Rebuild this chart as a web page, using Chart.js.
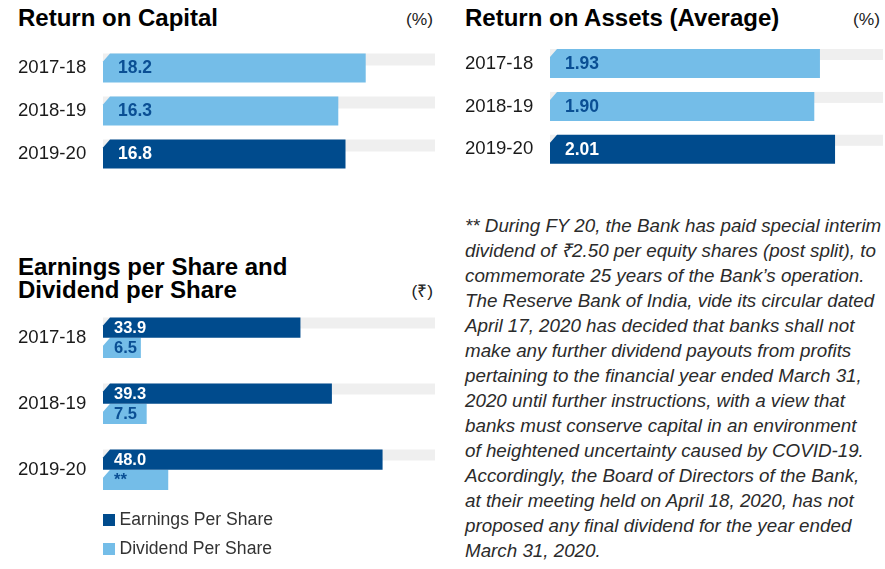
<!DOCTYPE html>
<html>
<head>
<meta charset="utf-8">
<script src="https://cdn.jsdelivr.net/npm/chart.js@4.4.0/dist/chart.umd.min.js"></script>
<style>
  html, body { margin:0; padding:0; background:#fff; }
  body { width:885px; height:569px; position:relative; overflow:hidden;
         font-family:"Liberation Sans", Arial, Helvetica, sans-serif; }
  .abs { position:absolute; white-space:nowrap; }
  .title { font-weight:bold; font-size:24px; line-height:24px; color:#000; }
  .unit { font-size:17.4px; line-height:18px; color:#222; text-align:right; }
  .note { font-style:italic; font-size:18.8px; line-height:25px; color:#2b2b2b; white-space:pre; }
  .leg { font-size:17.6px; line-height:20px; color:#333; }
  .sw { position:absolute; width:12px; height:12px; }
  canvas { position:absolute; }
</style>
</head>
<body>
<div class="abs title" style="left:18px;top:5.7px;">Return on Capital</div>
<div class="abs unit" style="left:370px;width:63px;top:9.7px;">(%)</div>
<div class="abs title" style="left:465px;top:5.7px;">Return on Assets (Average)</div>
<div class="abs unit" style="left:817px;width:63px;top:9.7px;">(%)</div>
<div class="abs title" style="left:18px;top:255.2px;line-height:23px;">Earnings per Share and<br>Dividend per Share</div>
<div class="abs unit" style="left:370px;width:63px;top:282px;">(₹)</div>

<canvas id="roc" width="435" height="140" style="left:0;top:40px;"></canvas>
<canvas id="roa" width="436" height="140" style="left:447px;top:36px;"></canvas>
<canvas id="eps" width="435" height="210" style="left:0;top:300px;"></canvas>

<div id="legend"></div>
<div id="note" class="abs note" style="left:465px;top:212.5px;"></div>

<script>
// ---- data ----
const years = ['2017-18', '2018-19', '2019-20'];
const rocValues = [18.2, 16.3, 16.8];
const roaValues = [1.93, 1.90, 2.01];
const epsValues = [33.9, 39.3, 48.0];
const dpsValues = [6.5, 7.5, 11.2];
const dpsLabels = ['6.5', '7.5', '**'];
const seriesNames = ['Earnings Per Share', 'Dividend Per Share'];
const noteLines = [
  '** During FY 20, the Bank has paid special interim',
  'dividend of ₹2.50 per equity shares (post split), to',
  'commemorate 25 years of the Bank’s operation.',
  'The Reserve Bank of India, vide its circular dated',
  'April 17, 2020 has decided that banks shall not',
  'make any further dividend payouts from profits',
  'pertaining to the financial year ended March 31,',
  '2020 until further instructions, with a view that',
  'banks must conserve capital in an environment',
  'of heightened uncertainty caused by COVID-19.',
  'Accordingly, the Board of Directors of the Bank,',
  'at their meeting held on April 18, 2020, has not',
  'proposed any final dividend for the year ended',
  'March 31, 2020.'
];

// ---- style ----
const LIGHT = '#74bde8';
const DARK = '#004b8d';
const LABEL_DARK = '#0a4f94';
const TRACK = '#efefef';
const FONT = '"Liberation Sans", Arial, Helvetica, sans-serif';
const ROA_BASE = 0.5;

// custom bar painter: grey track, chamfered bars, value labels
const barPainter = {
  id: 'barPainter',
  beforeDatasetsDraw(chart, args, opts) {
    const ctx = chart.ctx;
    const meta = chart.getDatasetMeta(0);
    ctx.save();
    ctx.fillStyle = TRACK;
    meta.data.forEach(el => {
      const top = el.y - el.height / 2;
      ctx.fillRect(el.base, top, chart.chartArea.right - el.base, opts.trackHeight);
    });
    ctx.restore();
  },
  beforeDatasetDraw(chart, args, opts) {
    const ctx = chart.ctx;
    const meta = args.meta;
    ctx.save();
    meta.data.forEach(el => {
      const top = el.y - el.height / 2;
      const bottom = el.y + el.height / 2;
      const c = opts.chamfer;
      ctx.beginPath();
      ctx.moveTo(el.base, top + c + 1);
      ctx.lineTo(el.base + c, top);
      ctx.lineTo(el.x, top);
      ctx.lineTo(el.x, bottom);
      ctx.lineTo(el.base, bottom);
      ctx.closePath();
      ctx.fillStyle = el.options.backgroundColor;
      ctx.fill();
    });
    ctx.restore();
    return false;
  },
  afterDatasetsDraw(chart, args, opts) {
    const ctx = chart.ctx;
    ctx.save();
    ctx.font = 'bold ' + opts.fontSize + 'px ' + FONT;
    ctx.textBaseline = 'middle';
    ctx.textAlign = 'left';
    chart.data.datasets.forEach((ds, di) => {
      const meta = chart.getDatasetMeta(di);
      meta.data.forEach((el, i) => {
        ctx.fillStyle = opts.labelColors[di][i];
        const txt = ds.valueLabels ? ds.valueLabels[i] : String(ds.data[i]);
        ctx.fillText(txt, el.base + opts.offset, el.y + 0.5);
      });
    });
    ctx.restore();
  }
};

function yAxis(width) {
  return {
    grid: { display: false, drawTicks: false },
    border: { display: false },
    ticks: { crossAlign: 'far', padding: 0, color: '#1a1a1a',
             font: { family: FONT, size: 18.6 } },
    afterFit(s) { s.width = width; s.paddingTop = 0; s.paddingBottom = 0; }
  };
}

function baseOptions(xmin, xmax, pad, painter) {
  return {
    indexAxis: 'y',
    responsive: false,
    animation: false,
    events: [],
    layout: { padding: pad },
    scales: {
      x: { display: false, min: xmin, max: xmax },
      y: yAxis(85)
    },
    plugins: {
      legend: { display: false },
      tooltip: { enabled: false },
      barPainter: painter
    }
  };
}

Chart.register(barPainter);

// Return on Capital
new Chart(document.getElementById('roc'), {
  type: 'bar',
  data: {
    labels: years,
    datasets: [{
      data: rocValues,
      valueLabels: rocValues.map(v => v.toFixed(1)),
      backgroundColor: [LIGHT, LIGHT, DARK],
      barThickness: 29
    }]
  },
  options: baseOptions(0, 23, { left: 18, right: 0, top: 6.5, bottom: 4.5 },
    { trackHeight: 12, chamfer: 7, offset: 15, fontSize: 17.5,
      labelColors: [[LABEL_DARK, LABEL_DARK, '#ffffff']] })
});

// Return on Assets
new Chart(document.getElementById('roa'), {
  type: 'bar',
  data: {
    labels: years,
    datasets: [{
      data: roaValues,
      base: ROA_BASE,
      valueLabels: roaValues.map(v => v.toFixed(2)),
      backgroundColor: [LIGHT, LIGHT, DARK],
      barThickness: 29
    }]
  },
  options: baseOptions(ROA_BASE, 2.264, { left: 18, right: 0, top: 6.1, bottom: 5.3 },
    { trackHeight: 11, chamfer: 7, offset: 15, fontSize: 17.5,
      labelColors: [[LABEL_DARK, LABEL_DARK, '#ffffff']] })
});

// EPS / DPS
new Chart(document.getElementById('eps'), {
  type: 'bar',
  data: {
    labels: years,
    datasets: [
      { label: seriesNames[0], data: epsValues,
        valueLabels: epsValues.map(v => v.toFixed(1)),
        backgroundColor: DARK, barThickness: 20.3 },
      { label: seriesNames[1], data: dpsValues,
        valueLabels: dpsLabels,
        backgroundColor: LIGHT, barThickness: 20.3 }
    ]
  },
  options: baseOptions(0, 57, { left: 18, right: 0, top: 4.8, bottom: 7.2 },
    { trackHeight: 11, chamfer: 7, offset: 11, fontSize: 16.5,
      labelColors: [['#ffffff', '#ffffff', '#ffffff'], [LABEL_DARK, LABEL_DARK, LABEL_DARK]] })
});

// legend (HTML, built from series names/colours)
const legend = document.getElementById('legend');
const legColors = [DARK, LIGHT];
const legTops = [508.9, 537.9];
seriesNames.forEach((name, i) => {
  const sw = document.createElement('div');
  sw.className = 'sw';
  sw.style.left = '103px';
  sw.style.top = (legTops[i] + 4.6) + 'px';
  sw.style.background = legColors[i];
  legend.appendChild(sw);
  const t = document.createElement('div');
  t.className = 'abs leg';
  t.style.left = '119.5px';
  t.style.top = legTops[i] + 'px';
  t.textContent = name;
  legend.appendChild(t);
});

document.getElementById('note').textContent = noteLines.join('\n');
</script>
</body>
</html>
